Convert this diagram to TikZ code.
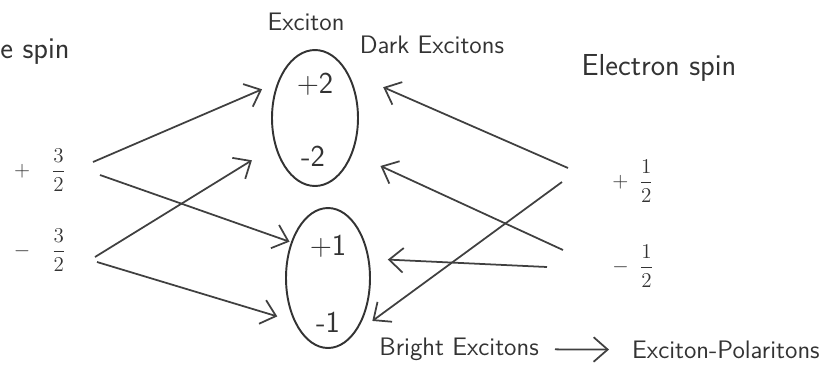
\documentclass[tikz,border=0pt]{standalone}
\usepackage{amsmath}
\usepackage{tikz}
\usetikzlibrary{arrows.meta,shapes.geometric}

\begin{document}
\begin{tikzpicture}[x=0.02cm,y=-0.02cm,
  hand/.style={font=\sffamily\LARGE,text=black!80},
  lvl/.style={draw=black!80,line width=1.1pt,ellipse,inner sep=0pt},
  spinlbl/.style={font=\large,text=black!80},
  arr/.style={-{Straight Barb[length=8pt,width=14pt]},line width=1pt,draw=black!75}]
  \useasboundingbox (0,0) rectangle (840,373);

  \node[hand,anchor=base west,inner sep=0pt] (holespin) at (0,58) {e spin};
  \node[hand,anchor=base] (elspin) at (659,75) {Electron spin};
  \node[hand,font=\sffamily\Large] (exc) at (306,22) {Exciton};
  \node[hand,font=\sffamily\Large] (darklbl) at (432,45) {Dark Excitons};

  \node[lvl,minimum width=1.72cm,minimum height=2.72cm] (dark) at (315,118) {};
  \node[lvl,minimum width=1.68cm,minimum height=2.8cm] (bright) at (328,278) {};
  \node[hand] (d2p) at (315,84) {+2};
  \node[hand] (d2m) at (313,156) {-2};
  \node[hand] (b1p) at (328,246) {+1};
  \node[hand] (b1m) at (328,322) {-1};

  \node[spinlbl] (p32) at (40,170) {$+\quad\dfrac{3}{2}$};
  \node[spinlbl] (m32) at (40,250) {$-\quad\dfrac{3}{2}$};
  \node[spinlbl] (p12) at (633,181) {$+\enspace\dfrac{1}{2}$};
  \node[spinlbl] (m12) at (633,266) {$-\enspace\dfrac{1}{2}$};

  \node[hand,font=\sffamily\Large,anchor=east] (brightlbl) at (545,349) {Bright Excitons};
  \node[hand,font=\sffamily\Large,anchor=west] (polar) at (626,350) {Exciton-Polaritons};

  \draw[arr,shorten >=0.33cm] ([shift={(53,-8)}]p32.center) -- (dark.137);
  \draw[arr,shorten >=0.03cm] ([shift={(60,5)}]p32.center) -- (bright.136);
  \draw[arr,shorten >=0.54cm] ([shift={(55,7)}]m32.center) -- (dark.215);
  \draw[arr,shorten >=0.35cm] ([shift={(57,12)}]m32.center) -- (bright.232);

  \draw[arr,shorten >=0.78cm] ([shift={(-65,-13)}]p12.center) -- (dark.55);
  \draw[arr,shorten >=0.45cm] ([shift={(-71,1)}]p12.center) -- (bright.295);
  \draw[arr,shorten >=0.61cm] ([shift={(-70,-16)}]m12.center) -- (dark.317);
  \draw[arr,shorten >=0.37cm] ([shift={(-86,1)}]m12.center) -- (bright.25);

  \draw[arr,shorten <=0.2cm,shorten >=0.34cm] (brightlbl) -- (polar);
\end{tikzpicture}
\end{document}
